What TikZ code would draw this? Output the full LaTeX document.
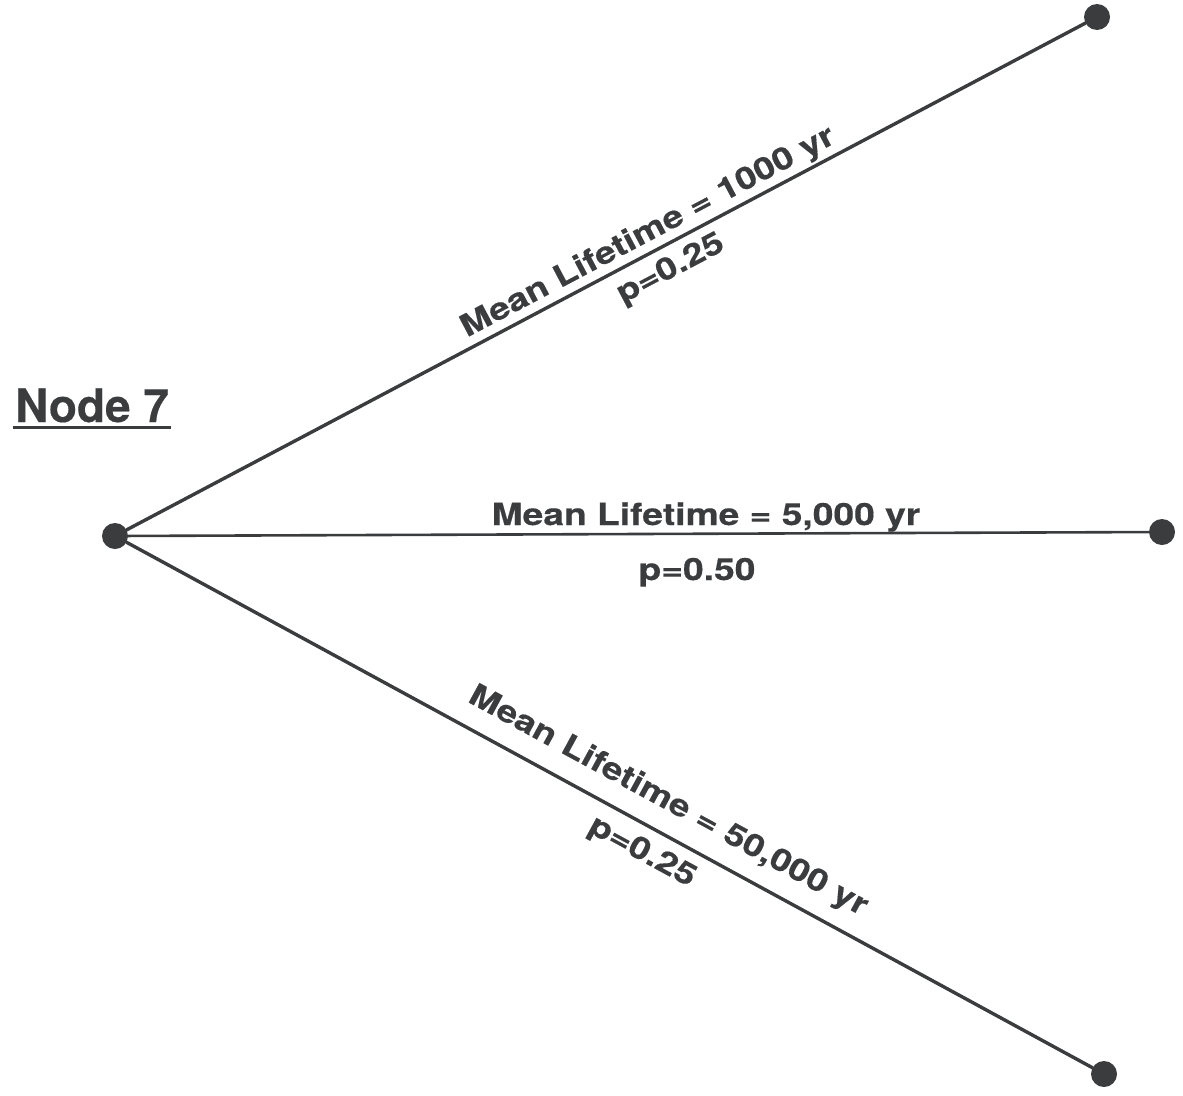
\documentclass[tikz,border=0pt]{standalone}
\usepackage{fontspec}
\newfontfamily\lblfont{TeX Gyre Heros}[FakeStretch=1.22,FakeBold=0.4]
\newfontfamily\titlefont{TeX Gyre Heros}[FakeBold=0.4]
\definecolor{ink}{RGB}{58,60,62}
\begin{document}
\begin{tikzpicture}[x=1pt,y=-1pt,
  dot/.style={circle,fill=ink,draw=none,inner sep=0pt,minimum size=26pt},
  branch/.style={draw=ink,line width=3.4pt,line cap=round},
  lbl/.style={text=ink,inner sep=0pt,anchor=base,font=\lblfont\bfseries\fontsize{30.5}{32}\selectfont},
  ttl/.style={text=ink,inner sep=0pt,anchor=base west,font=\titlefont\bfseries\fontsize{46}{48}\selectfont}]
\useasboundingbox (0,0) rectangle (1183,1095);
% nodes
\node[dot] (root) at (115,536) {};
\node[dot] (top) at (1097,17) {};
\node[dot] (mid) at (1162,532) {};
\node[dot] (bot) at (1104,1074) {};
% connectors
\draw[branch] (root) -- (top);
\draw[branch,line width=2.6pt] (root) -- (mid);
\draw[branch] (root) -- (bot);
% title
\node[ttl] (n7) at (15,422) {Node 7};
\draw[ink,line width=3pt] ([shift={(-2pt,-5pt)}]n7.base west) -- ([shift={(2pt,-5pt)}]n7.base east);
% labels
\node[lbl,rotate=27.86] (l1) at (652.0,239.8) {Mean Lifetime = 1000 yr};
\node[lbl,rotate=27.86] (p1) at (674.6,276.4) {p=0.25};
\node[lbl] (l2) at (706,525) {Mean Lifetime = 5,000 yr};
\node[lbl] (p2) at (697,580) {p=0.50};
\node[lbl,rotate=-28.54] (l3) at (664.1,808.7) {Mean Lifetime = 50,000 yr};
\node[lbl,rotate=-28.54] (p3) at (638.1,859.3) {p=0.25};
\end{tikzpicture}
\end{document}
